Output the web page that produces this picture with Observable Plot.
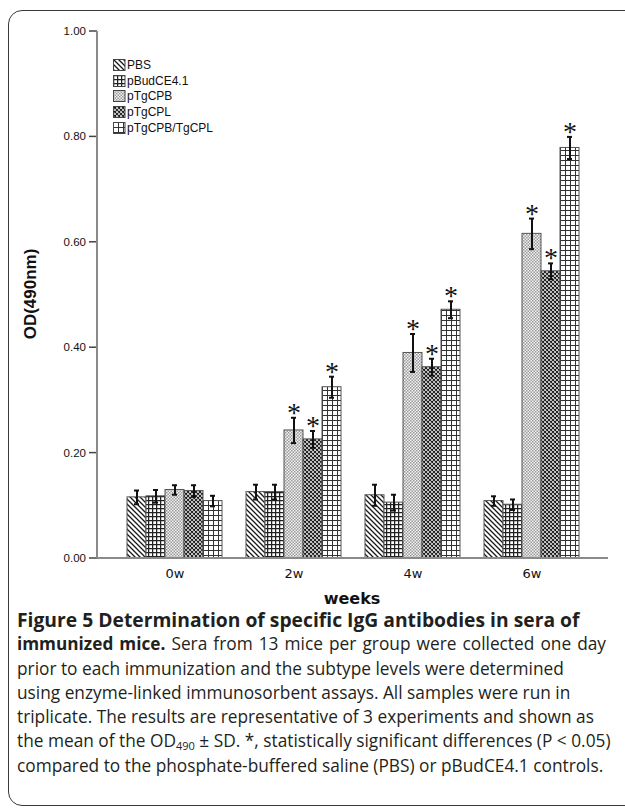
<!DOCTYPE html>
<html><head><meta charset="utf-8">
<script src="https://cdn.jsdelivr.net/npm/d3@7"></script>
<script src="https://cdn.jsdelivr.net/npm/@observablehq/plot@0.6"></script>
<style>
html,body{margin:0;padding:0;background:#fff;}
#wrap{position:relative;width:625px;height:809px;overflow:hidden;background:#fff;}
#border{position:absolute;left:8px;top:10px;width:680px;height:796px;border:1.5px solid #3a3a3a;border-radius:14px;box-sizing:border-box;}
#chart{position:absolute;left:0;top:0;}
#legend{position:absolute;left:113px;top:57px;font:12px "Liberation Sans",Arial,sans-serif;color:#111;}
#legend .row{height:15.8px;display:flex;align-items:center;}
#legend svg{margin-right:1px;}
#ytitle{position:absolute;left:30px;top:294px;transform:translate(-50%,-50%) rotate(-90deg);font:bold 17px "Liberation Sans",Arial,sans-serif;white-space:nowrap;color:#111;line-height:17px;}
#xtitle{position:absolute;left:352px;top:598px;transform:translate(-50%,-50%);font:bold 16px "DejaVu Sans",sans-serif;white-space:nowrap;color:#111;line-height:15px;}
#caption{position:absolute;left:17px;top:608px;font:17.3px "Open Sans",sans-serif;line-height:24.3px;color:#231f20;}
#caption div{white-space:nowrap;height:24.3px;}
#caption b{font-weight:700;display:inline-block;line-height:24.3px;height:24.3px;vertical-align:top;}
#caption .t{font-size:19.3px;}
#caption .t2{font-size:17.2px;}
#caption .ws{word-spacing:1.6px;}
#caption sub{font-size:11px;vertical-align:-3px;line-height:0;}
svg [aria-label^="fx-axis"]{font-family:"DejaVu Sans",sans-serif;font-size:13px;}
</style>
</head><body>
<div id="wrap">
<svg width="0" height="0" style="position:absolute">
<defs>
<pattern id="p0" patternUnits="userSpaceOnUse" width="5" height="5">
<rect width="5" height="5" fill="#fff"/>
<path d="M-1,-1L6,6M-1,4L1,6M4,-1L6,1" stroke="#1a1a1a" stroke-width="1.3"/>
</pattern>
<pattern id="p1" patternUnits="userSpaceOnUse" width="4" height="4">
<rect width="4" height="4" fill="#fff"/>
<path d="M0,0.6H4M0.6,0V4" stroke="#222" stroke-width="1.3"/>
</pattern>
<pattern id="p2" patternUnits="userSpaceOnUse" width="3" height="3">
<rect width="3" height="3" fill="#f2f2f2"/>
<rect x="0" y="0" width="1.5" height="1.5" fill="#9a9a9a"/>
<rect x="1.5" y="1.5" width="1.5" height="1.5" fill="#9a9a9a"/>
</pattern>
<pattern id="p3" patternUnits="userSpaceOnUse" width="4" height="4">
<rect width="4" height="4" fill="#fff"/>
<path d="M-1,-1L5,5M-1,5L5,-1M3,-1L5,1M-1,3L1,5M3,5L5,3M-1,1L1,-1" stroke="#1a1a1a" stroke-width="1.1"/>
</pattern>
<pattern id="p4" patternUnits="userSpaceOnUse" width="5" height="5">
<rect width="5" height="5" fill="#fff"/>
<path d="M0,0.5H5M0.5,0V5" stroke="#333" stroke-width="1"/>
</pattern>
</defs>
</svg>
<div id="border"></div>
<div id="chart"></div>
<div id="legend"></div>
<div id="ytitle">OD(490nm)</div>
<div id="xtitle">weeks</div>
<div id="caption">
<div><b class="t">Figure 5 Determination of specific IgG antibodies in sera of</b></div>
<div class="ws"><b class="t2">immunized mice.</b> Sera from 13 mice per group were collected one day</div>
<div>prior to each immunization and the subtype levels were determined</div>
<div>using enzyme-linked immunosorbent assays. All samples were run in</div>
<div>triplicate. The results are representative of 3 experiments and shown as</div>
<div>the mean of the OD<sub>490</sub> ± SD. *, statistically significant differences (P &lt; 0.05)</div>
<div>compared to the phosphate-buffered saline (PBS) or pBudCE4.1 controls.</div>
</div>
</div>
<script>
const weeks = ["0w", "2w", "4w", "6w"];
const groups = ["PBS", "pBudCE4.1", "pTgCPB", "pTgCPL", "pTgCPB/TgCPL"];
const patterns = ["url(#p0)", "url(#p1)", "url(#p2)", "url(#p3)", "url(#p4)"];
const yTicks = [0, 0.2, 0.4, 0.6, 0.8, 1.0];

const meanPBS    = [0.116, 0.126, 0.120, 0.109];
const meanBud    = [0.118, 0.126, 0.106, 0.102];
const meanCPB    = [0.130, 0.243, 0.390, 0.616];
const meanCPL    = [0.128, 0.226, 0.363, 0.545];
const meanCombo  = [0.109, 0.325, 0.472, 0.779];

const sdPBS   = [0.013, 0.014, 0.020, 0.009];
const sdBud   = [0.012, 0.014, 0.015, 0.010];
const sdCPB   = [0.009, 0.024, 0.036, 0.029];
const sdCPL   = [0.011, 0.016, 0.016, 0.015];
const sdCombo = [0.010, 0.020, 0.016, 0.021];

const sigPBS   = [false, false, false, false];
const sigBud   = [false, false, false, false];
const sigCPB   = [false, true, true, true];
const sigCPL   = [false, true, true, true];
const sigCombo = [false, true, true, true];

const means = [meanPBS, meanBud, meanCPB, meanCPL, meanCombo];
const sds = [sdPBS, sdBud, sdCPB, sdCPL, sdCombo];
const sigs = [sigPBS, sigBud, sigCPB, sigCPL, sigCombo];

const rows = [];
weeks.forEach((w, wi) => groups.forEach((g, gi) => {
  rows.push({week: w, group: g, pat: patterns[gi], v: means[gi][wi], lo: means[gi][wi] - sds[gi][wi], hi: means[gi][wi] + sds[gi][wi], sig: sigs[gi][wi]});
}));

const plot = Plot.plot({
  width: 625,
  height: 605,
  marginLeft: 97,
  marginRight: 17,
  marginTop: 31,
  marginBottom: 47,
  style: {fontFamily: "'Liberation Sans', Arial, sans-serif", fontSize: "11px", color: "#111", background: "transparent", overflow: "visible"},
  facet: {data: rows, x: "week"},
  fx: {domain: weeks, paddingInner: 0.17, paddingOuter: 0.215, axis: "bottom", tickSize: 0, tickPadding: 10, label: null},
  x: {domain: groups, padding: 0, axis: null},
  y: {domain: [0, 1], axis: null, label: null},
  color: {type: "identity"},
  marks: [
    Plot.barY(rows, {x: "group", y: "v", fill: "pat", stroke: "#555", strokeWidth: 1}),
    Plot.ruleX(rows, {x: "group", y1: "lo", y2: "hi", stroke: "#111", strokeWidth: 2}),
    Plot.tickY(rows, {x: "group", y: "lo", stroke: "#111", strokeWidth: 2, insetLeft: 7, insetRight: 7}),
    Plot.tickY(rows, {x: "group", y: "hi", stroke: "#111", strokeWidth: 2, insetLeft: 7, insetRight: 7}),
    Plot.text(rows, {filter: d => d.sig, x: "group", y: "hi", text: () => "*", fontFamily: "'Liberation Serif', serif", fontSize: 28, lineAnchor: "middle", dy: -5, fill: "#111"})
  ]
});
document.getElementById("chart").appendChild(plot);

// y axis and axis lines drawn from the plot's own scales
const ys = plot.scale("y"), fxs = plot.scale("fx");
const svg = d3.select(plot);
const xa = fxs.range[0], xb = fxs.range[1];
const ax = svg.append("g").attr("aria-label", "y-axis");
yTicks.forEach(t => {
  const py = ys.apply(t);
  ax.append("line").attr("x1", xa - 8).attr("x2", xa).attr("y1", py).attr("y2", py).attr("stroke", "#444").attr("stroke-width", 1.5);
  ax.append("text").attr("x", xa - 11).attr("y", py).attr("dy", "0.34em").attr("text-anchor", "end")
    .attr("font-family", "'Liberation Sans', Arial, sans-serif").attr("font-size", 11.5).attr("fill", "#111")
    .text(d3.format(".2f")(t));
});
svg.append("line").attr("x1", xa).attr("x2", xa).attr("y1", ys.apply(1)).attr("y2", ys.apply(0)).attr("stroke", "#8a8a8a").attr("stroke-width", 2);
svg.append("line").attr("x1", xa).attr("x2", xb).attr("y1", ys.apply(0)).attr("y2", ys.apply(0)).attr("stroke", "#8a8a8a").attr("stroke-width", 2);

// legend
const leg = d3.select("#legend");
groups.forEach((g, i) => {
  const r = leg.append("div").attr("class", "row");
  const s = r.append("svg").attr("width", 13).attr("height", 12);
  s.append("rect").attr("x", 0.5).attr("y", 0.5).attr("width", 11.5).attr("height", 11).attr("fill", patterns[i]).attr("stroke", "#444");
  r.append("span").text(g);
});
</script>
</body></html>
